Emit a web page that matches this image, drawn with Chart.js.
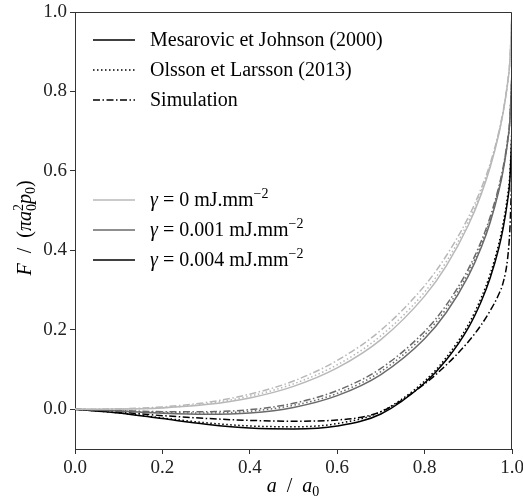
<!DOCTYPE html>
<html>
<head>
<meta charset="utf-8">
<script src="https://cdn.jsdelivr.net/npm/chart.js@4"></script>
<style>
  html, body { margin: 0; padding: 0; background: #fff; }
  #wrap { width: 523px; height: 502px; position: relative; }
</style>
</head>
<body>
<div id="wrap"><canvas id="chart" width="523" height="502"></canvas></div>
<script>
// ---- data ----
const xs = [0, 0.1, 0.2, 0.3, 0.4, 0.5, 0.6, 0.7, 0.8, 0.85, 0.9, 0.93, 0.95, 0.97, 0.98, 0.99, 0.995, 1.0];

// gamma = 0
const mj0  = [0, 0.0004, 0.0034, 0.0118, 0.0286, 0.0577, 0.1041, 0.1754, 0.2848, 0.3617, 0.4631, 0.5428, 0.609, 0.6935, 0.7483, 0.821, 0.873, 1.0];
const ol0  = [0, 0.0006, 0.004, 0.014, 0.033, 0.064, 0.112, 0.185, 0.295, 0.372, 0.472, 0.55, 0.614, 0.697, 0.75, 0.822, 0.874, 1.0];
const sim0 = [0, 0.001, 0.006, 0.017, 0.038, 0.071, 0.123, 0.199, 0.311, 0.387, 0.483, 0.557, 0.618, 0.699, 0.752, 0.823, 0.875, 1.0];
// gamma = 0.001
const mj1  = [0, -0.0043, -0.01, -0.0128, -0.0094, 0.0047, 0.0344, 0.0875, 0.1775, 0.2441, 0.335, 0.4083, 0.4701, 0.5502, 0.6028, 0.6732, 0.724, 0.85];
const ol1  = [0, -0.004, -0.008, -0.0095, -0.005, 0.01, 0.04, 0.095, 0.187, 0.254, 0.344, 0.416, 0.477, 0.556, 0.607, 0.676, 0.726, 0.85];
const sim1 = [0, -0.003, -0.006, -0.006, -0.001, 0.015, 0.047, 0.103, 0.196, 0.263, 0.353, 0.424, 0.484, 0.561, 0.611, 0.679, 0.728, 0.85];
// gamma = 0.004
const mj4  = [0, -0.0091, -0.0234, -0.0375, -0.0473, -0.0495, -0.042, -0.012, 0.066, 0.1246, 0.205, 0.2727, 0.3302, 0.4065, 0.4572, 0.5255, 0.575, 0.7];
const ol4  = [0, -0.009, -0.022, -0.034, -0.042, -0.044, -0.036, -0.006, 0.071, 0.131, 0.213, 0.282, 0.34, 0.418, 0.469, 0.538, 0.59, 0.71];
const sim4 = [0, -0.007, -0.016, -0.023, -0.028, -0.03, -0.027, -0.006, 0.064, 0.112, 0.17, 0.213, 0.248, 0.29, 0.32, 0.38, 0.45, 0.6];

const xTicks = [0, 0.2, 0.4, 0.6, 0.8, 1.0];
const yTicks = [0, 0.2, 0.4, 0.6, 0.8, 1.0];

const LIGHT = '#b8b8b8';
const MID = '#6a6a6a';
const DARK = '#000000';
const DOT = [1.5, 2.5];
const DASHDOT = [7, 2.5, 1.5, 2.5];
const FONT = '"Liberation Serif", "DejaVu Serif", serif';

function series(label, ys, color, dash) {
  return {
    label: label,
    data: xs.map((x, i) => ({ x: x, y: ys[i] })),
    borderColor: color,
    borderWidth: 1.5,
    borderDash: dash,
    pointRadius: 0,
    fill: false,
    cubicInterpolationMode: 'monotone'
  };
}

// draw a run of text pieces: {t, it, dy, fs, stack}
function drawRich(ctx, parts, x, y, align, base) {
  const fontOf = p => (p.it ? 'italic ' : '') + (p.fs || base) + 'px ' + FONT;
  const widths = parts.map(p => {
    ctx.font = fontOf(p);
    if (p.stack) {
      return Math.max(ctx.measureText(p.stack[0]).width, ctx.measureText(p.stack[1]).width);
    }
    return ctx.measureText(p.t).width;
  });
  const total = widths.reduce((a, b) => a + b, 0);
  let cx = align === 'center' ? x - total / 2 : x;
  ctx.textAlign = 'left';
  ctx.textBaseline = 'alphabetic';
  parts.forEach((p, i) => {
    ctx.font = fontOf(p);
    if (p.stack) {
      ctx.fillText(p.stack[0], cx, y - 8);
      ctx.fillText(p.stack[1], cx, y + 5);
    } else {
      ctx.fillText(p.t, cx, y + (p.dy || 0));
    }
    cx += widths[i];
  });
}

const legendRows = [
  { y: 40,  color: DARK, dash: [], parts: [{ t: 'Mesarovic et Johnson (2000)' }] },
  { y: 70,  color: DARK, dash: DOT, parts: [{ t: 'Olsson et Larsson (2013)' }] },
  { y: 100, color: DARK, dash: DASHDOT, parts: [{ t: 'Simulation' }] },
  { y: 200, color: LIGHT, dash: [], parts: [{ t: 'γ', it: true }, { t: ' = 0 mJ.mm' }, { t: '−2', fs: 14, dy: -8 }] },
  { y: 230, color: MID, dash: [], parts: [{ t: 'γ', it: true }, { t: ' = 0.001 mJ.mm' }, { t: '−2', fs: 14, dy: -8 }] },
  { y: 260, color: DARK, dash: [], parts: [{ t: 'γ', it: true }, { t: ' = 0.004 mJ.mm' }, { t: '−2', fs: 14, dy: -8 }] }
];

const decor = {
  id: 'decor',
  afterDraw(chart) {
    const ctx = chart.ctx;
    const a = chart.chartArea;
    ctx.save();
    // frame top/right
    ctx.strokeStyle = '#333';
    ctx.lineWidth = 1;
    ctx.beginPath();
    ctx.moveTo(a.left, a.top + 0.5);
    ctx.lineTo(a.right - 0.5, a.top + 0.5);
    ctx.lineTo(a.right - 0.5, a.bottom);
    ctx.stroke();

    // legend
    ctx.fillStyle = '#000';
    legendRows.forEach(r => {
      ctx.strokeStyle = r.color;
      ctx.lineWidth = 1.5;
      ctx.setLineDash(r.dash);
      ctx.beginPath();
      ctx.moveTo(93, r.y);
      ctx.lineTo(135, r.y);
      ctx.stroke();
      ctx.setLineDash([]);
      drawRich(ctx, r.parts, 150, r.y + 6, 'left', 20);
    });

    // x title
    drawRich(ctx, [{ t: 'a', it: true }, { t: '  /  ' }, { t: 'a', it: true }, { t: '0', fs: 14, dy: 4 }], 293, 492, 'center', 20);

    // y title
    ctx.translate(25, 228);
    ctx.rotate(-Math.PI / 2);
    drawRich(ctx, [
      { t: 'F', it: true }, { t: '  /  (' }, { t: 'π', it: true }, { t: 'a', it: true },
      { stack: ['2', '0'], fs: 14 }, { t: 'p', it: true }, { t: '0', fs: 14, dy: 4 }, { t: ')' }
    ], 0, 6, 'center', 20);
    ctx.restore();
  }
};

new Chart(document.getElementById('chart'), {
  type: 'line',
  data: {
    datasets: [
      series('MJ g0', mj0, LIGHT, []),
      series('OL g0', ol0, LIGHT, DOT),
      series('Sim g0', sim0, LIGHT, DASHDOT),
      series('MJ g1', mj1, MID, []),
      series('OL g1', ol1, MID, DOT),
      series('Sim g1', sim1, MID, DASHDOT),
      series('MJ g4', mj4, DARK, []),
      series('OL g4', ol4, DARK, DOT),
      series('Sim g4', sim4, DARK, DASHDOT)
    ]
  },
  options: {
    responsive: false,
    animation: false,
    layout: { padding: { top: 12, right: 11, left: 0, bottom: 0 } },
    plugins: { legend: { display: false }, tooltip: { enabled: false } },
    scales: {
      x: {
        type: 'linear',
        min: 0,
        max: 1,
        afterBuildTicks: s => { s.ticks = xTicks.map(v => ({ value: v })); },
        afterFit: s => { s.height = 53; s.paddingRight = 0; s.paddingLeft = 0; },
        grid: { drawOnChartArea: false, drawTicks: true, tickLength: 5, color: '#333' },
        border: { display: true, color: '#333', width: 1 },
        ticks: { color: '#222', padding: 3, maxRotation: 0, font: { family: FONT, size: 19 }, callback: v => v.toFixed(1) }
      },
      y: {
        type: 'linear',
        min: -0.1,
        max: 1.0,
        afterBuildTicks: s => { s.ticks = yTicks.map(v => ({ value: v })); },
        afterFit: s => { s.width = 75; s.paddingTop = 0; s.paddingBottom = 0; },
        grid: { drawOnChartArea: false, drawTicks: true, tickLength: 5, color: '#333' },
        border: { display: true, color: '#333', width: 1 },
        ticks: { color: '#222', padding: 3, font: { family: FONT, size: 19 }, callback: v => v.toFixed(1) }
      }
    }
  },
  plugins: [decor]
});
</script>
</body>
</html>
